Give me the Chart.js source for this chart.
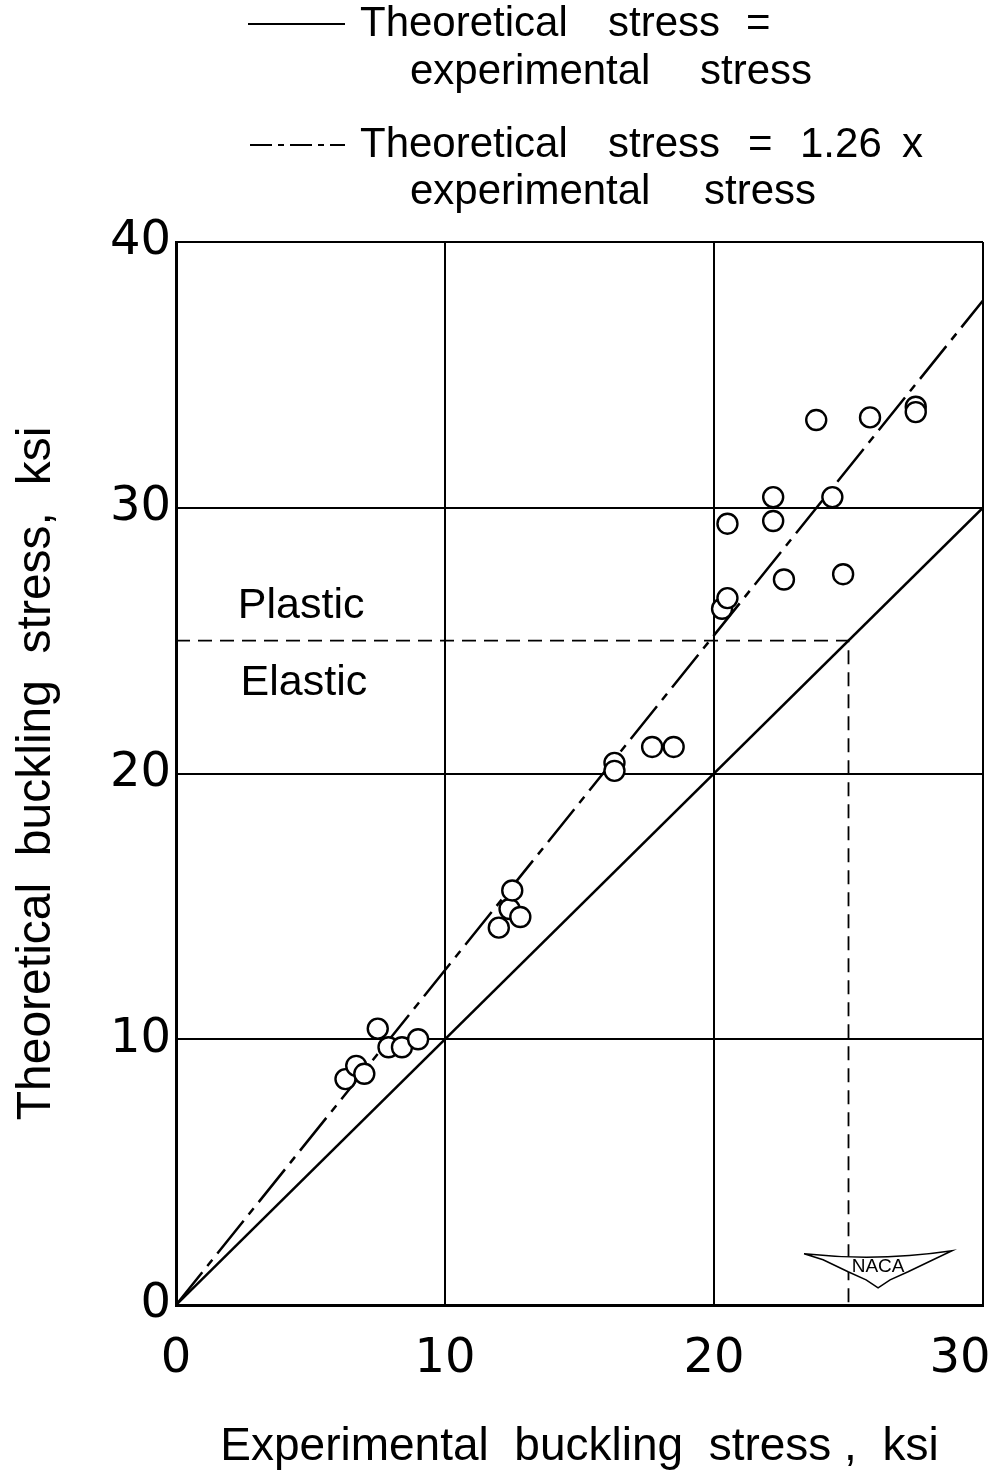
<!DOCTYPE html>
<html>
<head>
<meta charset="utf-8">
<script src="https://cdn.jsdelivr.net/npm/chart.js@4.4.1/dist/chart.umd.min.js"></script>
<style>
  html, body { margin: 0; padding: 0; background: #fff; }
  #wrap { width: 1007px; height: 1479px; position: relative; }
</style>
</head>
<body>
<div id="wrap"><canvas id="bucklingChart" width="1007" height="1479"></canvas></div>
<script>
// test points (ksi)
const experimental = [
  6.3, 6.7, 7.0, 7.5, 7.9, 8.4, 9.0,
  12.0, 12.4, 12.5, 12.8,
  16.3, 16.3, 17.7, 18.5,
  20.3, 20.5, 20.5, 22.2, 22.2, 22.6,
  23.8, 24.4, 24.8, 25.8, 27.5, 27.5
];
const theoretical = [
  8.5, 9.0, 8.7, 10.4, 9.7, 9.7, 10.0,
  14.2, 14.9, 15.6, 14.6,
  20.4, 20.1, 21.0, 21.0,
  26.2, 26.6, 29.4, 30.4, 29.5, 27.3,
  33.3, 30.4, 27.5, 33.4, 33.8, 33.6
];
const equalLine = [[0, 0], [30, 30]];
const factorLine = [[0, 0], [30, 37.8]];
const limitLine = [[0, 25], [25, 25], [25, 0]];
const xTicks = [0, 10, 20, 30];
const yTicks = [0, 10, 20, 30, 40];

const toXY = (arr) => arr.map(([x, y]) => ({ x: x, y: y }));
const points = experimental.map((x, i) => ({ x: x, y: theoretical[i] }));

const FONT = "'Liberation Sans', Arial, sans-serif";

// legend, region labels and the NACA badge
const annotations = {
  id: "annotations",
  afterDraw(chart) {
    const ctx = chart.ctx;
    const xs = chart.scales.x;
    const ys = chart.scales.y;
    ctx.save();
    ctx.fillStyle = "#000";
    ctx.strokeStyle = "#000";
    ctx.textBaseline = "middle";
    ctx.textAlign = "left";

    // legend
    ctx.font = "42px " + FONT;
    ctx.lineWidth = 2;
    ctx.beginPath();
    ctx.moveTo(248, 24);
    ctx.lineTo(345, 24);
    ctx.stroke();
    [["Theoretical", 360], ["stress", 608], ["=", 746]].forEach(([t, x]) => ctx.fillText(t, x, 24));
    [["experimental", 410], ["stress", 700]].forEach(([t, x]) => ctx.fillText(t, x, 72));
    ctx.setLineDash([22, 6, 6, 6]);
    ctx.beginPath();
    ctx.moveTo(250, 145);
    ctx.lineTo(345, 145);
    ctx.stroke();
    ctx.setLineDash([]);
    [["Theoretical", 360], ["stress", 608], ["=", 748], ["1.26", 800], ["x", 902]].forEach(([t, x]) => ctx.fillText(t, x, 145));
    [["experimental", 410], ["stress", 704]].forEach(([t, x]) => ctx.fillText(t, x, 192));

    // plastic / elastic
    ctx.font = "43px " + FONT;
    ctx.fillText("Plastic", xs.getPixelForValue(2.3), ys.getPixelForValue(26.3));
    ctx.fillText("Elastic", xs.getPixelForValue(2.4), ys.getPixelForValue(23.4));

    // NACA wing badge
    const cx = xs.getPixelForValue(26.1);
    const cy = ys.getPixelForValue(1.4);
    ctx.fillStyle = "#fff";
    ctx.lineWidth = 1.5;
    ctx.beginPath();
    ctx.moveTo(cx - 74, cy - 14);
    ctx.quadraticCurveTo(cx, cy - 6, cx + 74, cy - 17);
    ctx.lineTo(cx + 55, cy - 8);
    ctx.lineTo(cx + 30, cy + 4);
    ctx.lineTo(cx + 12, cy + 12);
    ctx.lineTo(cx, cy + 20);
    ctx.lineTo(cx - 12, cy + 12);
    ctx.lineTo(cx - 30, cy + 4);
    ctx.lineTo(cx - 55, cy - 8);
    ctx.closePath();
    ctx.fill();
    ctx.stroke();
    ctx.fillStyle = "#000";
    ctx.textAlign = "center";
    ctx.font = "19px " + FONT;
    ctx.fillText("NACA", cx, cy - 1);
    ctx.restore();
  },
};

const ctx = document.getElementById("bucklingChart").getContext("2d");
new Chart(ctx, {
  type: "scatter",
  data: {
    datasets: [
      {
        label: "Tests",
        data: points,
        pointStyle: "circle",
        pointRadius: 10,
        pointBorderWidth: 2.4,
        pointBorderColor: "#000",
        pointBackgroundColor: "#fff",
        showLine: false,
        order: 0,
      },
      {
        label: "Theoretical stress = experimental stress",
        data: toXY(equalLine),
        showLine: true,
        borderColor: "#000",
        borderWidth: 2.5,
        pointRadius: 0,
        order: 1,
      },
      {
        label: "Theoretical stress = 1.26 x experimental stress",
        data: toXY(factorLine),
        showLine: true,
        borderColor: "#000",
        borderWidth: 2.5,
        borderDash: [42, 8, 8, 8],
        pointRadius: 0,
        order: 1,
      },
      {
        label: "Plastic / elastic limit",
        data: toXY(limitLine),
        showLine: true,
        borderColor: "#000",
        borderWidth: 1.8,
        borderDash: [14, 8],
        pointRadius: 0,
        order: 1,
      },
    ],
  },
  options: {
    responsive: false,
    animation: false,
    layout: { padding: { top: 242, right: 24, left: 0, bottom: 0 } },
    plugins: {
      legend: { display: false },
      tooltip: { enabled: false },
    },
    scales: {
      x: {
        type: "linear",
        min: 0,
        max: 30,
        afterBuildTicks: (scale) => { scale.ticks = xTicks.map((v) => ({ value: v })); },
        afterFit: (scale) => {
          scale.height = 174;
          scale.paddingLeft = 0;
          scale.paddingRight = 0;
        },
        grid: { color: "#000", lineWidth: 2, drawTicks: false },
        border: { color: "#000", width: 3 },
        ticks: {
          color: "#000",
          padding: 26,
          font: { family: "'DejaVu Sans'", size: 48 },
          // last label sits a little inside the frame, as in the original
          callback: (v) => (v === 30 ? "30   " : String(v)),
        },
        title: {
          display: true,
          text: "Experimental  buckling  stress ,  ksi",
          color: "#000",
          font: { family: FONT, size: 46 },
          padding: { top: 0, bottom: 4 },
        },
      },
      y: {
        type: "linear",
        min: 0,
        max: 40,
        afterBuildTicks: (scale) => { scale.ticks = yTicks.map((v) => ({ value: v })); },
        afterFit: (scale) => {
          scale.width = 176;
          scale.paddingTop = 0;
          scale.paddingBottom = 0;
        },
        grid: { color: "#000", lineWidth: 2, drawTicks: false },
        border: { color: "#000", width: 3 },
        ticks: {
          color: "#000",
          padding: 5,
          font: { family: "'DejaVu Sans'", size: 48 },
        },
        title: {
          display: true,
          text: "Theoretical  buckling  stress,  ksi",
          color: "#000",
          font: { family: FONT, size: 48 },
          padding: { top: 8, bottom: 0 },
        },
      },
    },
  },
  plugins: [annotations],
});
</script>
</body>
</html>
